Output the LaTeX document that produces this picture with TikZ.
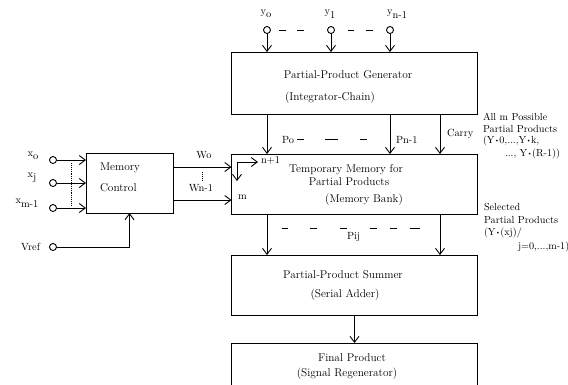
\documentclass[tikz,border=0pt]{standalone}
\usetikzlibrary{arrows.meta}
\newcommand{\lsub}[2]{#1\raisebox{-0.8ex}{#2}}
\newcommand{\ydot}{\raisebox{0.3ex}{\scalebox{0.6}{\textbullet}}}
\begin{document}
\begin{tikzpicture}[x=1pt, y=-1pt, inner sep=0pt, outer sep=0pt, line width=0.9pt,
  >={Straight Barb[length=6pt,width=9pt,line width=0.9pt]},
  blk/.style={draw, rectangle, minimum width=246pt},
  port/.style={draw, circle, minimum size=7pt},
  txt/.style={font=\fontsize{11.3}{13}\selectfont},
  note/.style={font=\fontsize{10.2}{12}\selectfont, anchor=west},
  lbl/.style={font=\fontsize{10.4}{12}\selectfont}]
\clip (0,0) rectangle (568,384);
% blocks
\node[blk, minimum height=62pt] (gen) at (354.5,83) {};
\node[blk, minimum height=60pt] (tmem) at (354.5,184) {};
\node[blk, minimum height=60pt] (summer) at (354.5,285) {};
\node[blk, minimum height=60pt] (final) at (354.5,373) {};
\node[draw, rectangle, minimum width=87pt, minimum height=60pt] (mctl) at (129.5,183) {};
% block texts
\node[txt] (gen1) at (348,75) {Partial-Product Generator};
\node[txt] (gen2) at (330,98) {(Integrator-Chain)};
\node[txt] (tm1) at (346,170) {Temporary Memory for};
\node[txt] (tm2) at (349,182) {Partial Products};
\node[txt] (tm3) at (364,200) {(Memory Bank)};
\node[txt] (su1) at (343,275) {Partial-Product Summer};
\node[txt] (su2) at (345,295) {(Serial Adder)};
\node[txt] (fi1) at (352,358) {Final Product};
\node[txt] (fi2) at (347,374) {(Signal Regenerator)};
\node[txt, anchor=west] (mc1) at (100,168) {Memory};
\node[txt, anchor=west] (mc2) at (100,188) {Control};
% y inputs
\node[port] (yc0) at (267,30) {};
\node[port] (yc1) at (331,30) {};
\node[port] (ycn) at (390,30) {};
\node[lbl] (yl0) at (266,14) {\lsub{y}{o}};
\node[lbl] (yl1) at (330,14) {\lsub{y}{1}};
\node[lbl] (yln) at (397,14) {\lsub{y}{n-1}};
\foreach \p in {yc0,yc1,ycn} \draw[->] (\p) -- (\p |- gen.north);
\draw (279,30) -- (286,30) (297,30) -- (304,30) (348,30) -- (354,30) (366,30) -- (373,30);
% x inputs
\node[port] (xc0) at (53,160) {};
\node[port] (xcj) at (53,183) {};
\node[port] (xcm) at (53,208) {};
\node[port] (vref) at (53,247) {};
\node[lbl] (xl0) at (33,156) {\lsub{x}{o}};
\node[lbl] (xlj) at (32,178) {\lsub{x}{j}};
\node[lbl] (xlm) at (27,203) {\lsub{x}{m-1}};
\node[lbl, anchor=east] (vl) at (40,247) {Vref};
\foreach \p in {xc0,xcj,xcm} \draw[->] (\p) -- (\p -| mctl.west);
\draw[densely dotted] (71,163) -- (71,205);
\draw[->] (vref) -| (mctl.south);
% memory control to temporary memory
\coordinate (w0) at (mctl.east |- 0,167);
\coordinate (wn) at (mctl.east |- 0,200);
\draw[->] (w0) -- (w0 -| tmem.west);
\draw[->] (wn) -- (wn -| tmem.west);
\node[lbl] (wl0) at (204,155) {Wo};
\node[lbl] (wln) at (201,188) {Wn-1};
\draw[densely dotted] (202,172) -- (202,180);
% generator to temporary memory
\coordinate (p0) at (267,0);
\coordinate (pn) at (390,0);
\coordinate (cy) at (440,0);
\draw[->] (p0 |- gen.south) -- (p0 |- tmem.north);
\draw[->] (pn |- gen.south) -- (pn |- tmem.north);
\draw[->] (cy |- gen.south) -- (cy |- tmem.north);
\node[lbl, anchor=west] (pl0) at (282,140) {Po};
\draw (297,139) -- (304,139) (325,139) -- (338,139) (360,139) -- (367,139);
\node[lbl, anchor=west] (pln) at (396,140) {Pn-1};
\node[lbl, anchor=west] (cl) at (447,134) {Carry};
% inside temporary memory
\coordinate (crn) at (237,162);
\draw[->] (crn) -- ++(21,0);
\draw[->] (crn) -- ++(0,19);
\node[lbl, anchor=west] (nl) at (261,160) {n+1};
\node[lbl, anchor=west] (ml) at (238,197) {m};
% temporary memory to summer
\draw[->] (p0 |- tmem.south) -- (p0 |- summer.north);
\draw[->] (cy |- tmem.south) -- (cy |- summer.north);
\draw (282,228) -- (288,228) (310,228) -- (317,228) (340,228) -- (347,228)
  (370,228) -- (377,228) (390,228) -- (397,228) (410,228) -- (420,228);
\node[lbl, anchor=west] (pij) at (347,237) {Pij};
% summer to final
\draw[->] (summer) -- (final);
% notes
\node[note] (n1) at (483,117) {All m Possible};
\node[note] (n2) at (483,129) {Partial Products};
\node[note] (n3) at (483,141) {(Y\ydot0,...,Y\ydot k,};
\node[note] (n4) at (505,154) {..., Y\ydot(R-1))};
\node[note] (s1) at (484,207) {Selected};
\node[note] (s2) at (484,220) {Partial Products};
\node[note] (s3) at (484,233) {(Y\ydot(xj)/};
\node[note] (s4) at (518,247) {j=0,...,m-1)};
\end{tikzpicture}
\end{document}
